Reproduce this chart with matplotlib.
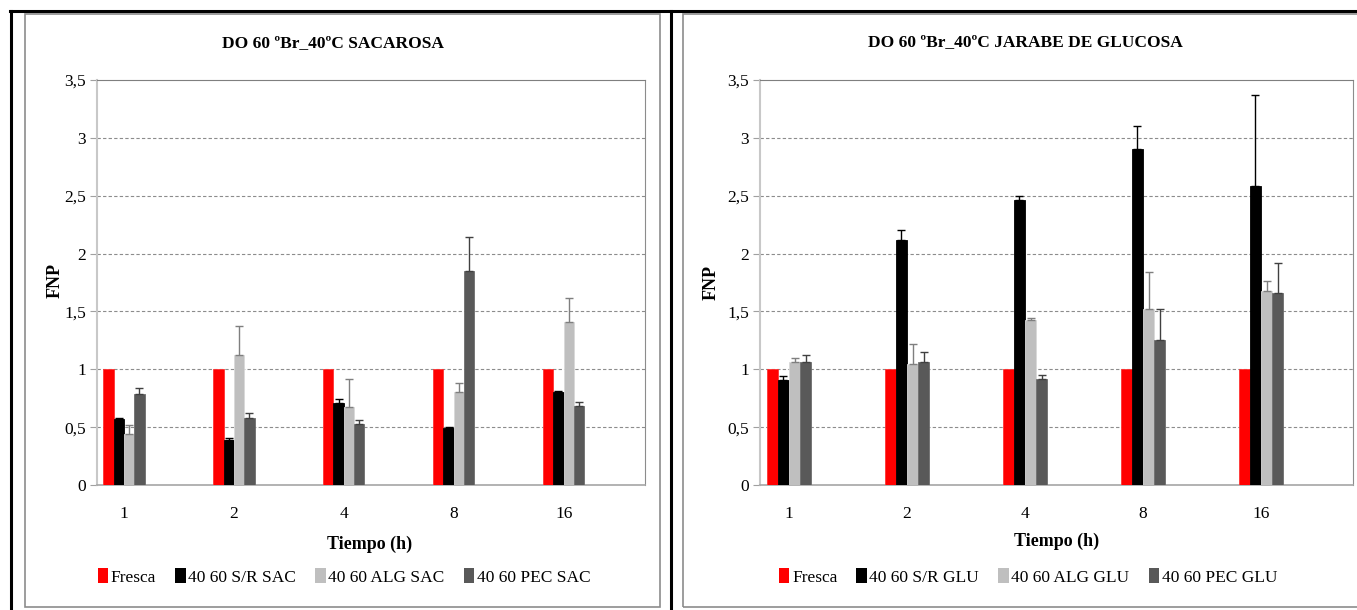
import numpy as np
import matplotlib
matplotlib.use('Agg')
import matplotlib.pyplot as plt
from matplotlib.patches import Patch, Rectangle
from matplotlib.lines import Line2D
from matplotlib.ticker import FuncFormatter, MultipleLocator

plt.rcParams['font.family'] = ['Liberation Serif', 'DejaVu Serif']

# Daten
tiempos = ['1', '2', '4', '8', '16']
fresca = [1, 1, 1, 1, 1]

sac_series = ['Fresca', '40 60 S/R SAC', '40 60 ALG SAC', '40 60 PEC SAC']
sac_sr = [0.57, 0.39, 0.71, 0.49, 0.80]
sac_sr_err = [0.01, 0.02, 0.03, 0.01, 0.01]
sac_alg = [0.44, 1.12, 0.67, 0.80, 1.41]
sac_alg_err = [0.08, 0.25, 0.25, 0.08, 0.21]
sac_pec = [0.79, 0.58, 0.53, 1.85, 0.68]
sac_pec_err = [0.05, 0.04, 0.03, 0.29, 0.04]

glu_series = ['Fresca', '40 60 S/R GLU', '40 60 ALG GLU', '40 60 PEC GLU']
glu_sr = [0.91, 2.12, 2.46, 2.90, 2.58]
glu_sr_err = [0.03, 0.08, 0.04, 0.20, 0.79]
glu_alg = [1.06, 1.05, 1.43, 1.52, 1.68]
glu_alg_err = [0.04, 0.17, 0.01, 0.32, 0.08]
glu_pec = [1.06, 1.06, 0.92, 1.25, 1.66]
glu_pec_err = [0.06, 0.09, 0.03, 0.27, 0.26]

colors = ['#ff0000', '#000000', '#bfbfbf', '#595959']
edges = ['#ff3333', '#000000', '#d9d9d9', '#6e6e6e']
err_colors = ['#000000', '#7f7f7f', '#404040']

W, H = 1357, 610
fig = plt.figure(figsize=(W / 100, H / 100), dpi=100)


def fx(x):
    return x / W


def fy(y):
    return 1 - y / H


def draw_panel(ax, sr, sr_err, alg, alg_err, pec, pec_err, xlim):
    x = np.arange(len(tiempos))
    w = 0.094
    vals = [fresca, sr, alg, pec]
    errs = [None, sr_err, alg_err, pec_err]
    for i in range(4):
        pos = x + (i - 1.5) * w
        ax.bar(pos, vals[i], width=w, color=colors[i], edgecolor=edges[i],
               linewidth=0.6, zorder=3)
        if errs[i] is not None:
            ax.errorbar(pos, vals[i], yerr=[np.zeros(len(x)), errs[i]], fmt='none',
                        ecolor=err_colors[i - 1], elinewidth=1.0, capsize=3,
                        capthick=1.0, zorder=4)
    ax.set_xlim(*xlim)
    ax.set_ylim(0, 3.5)
    ax.yaxis.set_major_locator(MultipleLocator(0.5))
    ax.yaxis.set_major_formatter(FuncFormatter(lambda v, p: ('%g' % v).replace('.', ',')))
    ax.set_xticks(x)
    ax.set_xticklabels(tiempos)
    ax.tick_params(axis='x', length=0, labelsize=12.5, pad=15)
    ax.tick_params(axis='y', length=5, color='#a0a0a0', labelsize=12.5, pad=3)
    for v in np.arange(0.5, 3.01, 0.5):
        ax.axhline(v, color='#8c8c8c', linestyle=(0, (3, 2)), linewidth=0.8, zorder=1)
    ax.spines['left'].set_color('#c8c8c8')
    ax.spines['left'].set_linewidth(1.5)
    ax.spines['bottom'].set_color('#a6a6a6')
    ax.spines['bottom'].set_linewidth(1.2)
    ax.spines['top'].set_color('#7f7f7f')
    ax.spines['right'].set_color('#8c8c8c')


ax1 = fig.add_axes([fx(97), fy(485), fx(645 - 97), (485 - 80) / H])
draw_panel(ax1, sac_sr, sac_sr_err, sac_alg, sac_alg_err, sac_pec, sac_pec_err, (-0.245, 4.74))

ax2 = fig.add_axes([fx(760), fy(485), fx(1353 - 760), (485 - 80) / H])
draw_panel(ax2, glu_sr, glu_sr_err, glu_alg, glu_alg_err, glu_pec, glu_pec_err, (-0.246, 4.78))

# Titel und Achsenbeschriftungen
fig.text(fx(333), fy(43), 'DO 60 ºBr_40ºC SACAROSA', ha='center', va='center',
         fontsize=12.5, fontweight='bold')
fig.text(fx(1025), fy(42), 'DO 60 ºBr_40ºC JARABE DE GLUCOSA', ha='center', va='center',
         fontsize=12.5, fontweight='bold')
fig.text(fx(370), fy(544), 'Tiempo (h)', ha='center', va='center', fontsize=13, fontweight='bold')
fig.text(fx(1057), fy(541), 'Tiempo (h)', ha='center', va='center', fontsize=13, fontweight='bold')
fig.text(fx(55), fy(280), 'FNP', ha='center', va='center', rotation=90, fontsize=13, fontweight='bold')
fig.text(fx(711), fy(283), 'FNP', ha='center', va='center', rotation=90, fontsize=13, fontweight='bold')

# Legenden
for labels, cx in [(sac_series, 344), (glu_series, 1028)]:
    handles = [Patch(facecolor=c, edgecolor='none') for c in colors]
    fig.legend(handles, labels, loc='center', bbox_to_anchor=(fx(cx), fy(577)), ncol=4,
               frameon=False, fontsize=12.5, handlelength=0.6, handleheight=0.9,
               handletextpad=0.15, columnspacing=1.1, borderpad=0)

# Rahmen (Tabelle + Diagrammflaechen)
fig.add_artist(Rectangle((fx(25), fy(607)), fx(660 - 25), (607 - 14) / H,
                         transform=fig.transFigure, fill=False, edgecolor='#8c8c8c', linewidth=1.2))
fig.add_artist(Rectangle((fx(683), fy(607)), fx(1400 - 683), (607 - 14) / H,
                         transform=fig.transFigure, fill=False, edgecolor='#8c8c8c', linewidth=1.2))
fig.add_artist(Line2D([fx(11), fx(11)], [0, fy(11)], transform=fig.transFigure, color='black', linewidth=2.2))
fig.add_artist(Line2D([fx(671), fx(671)], [0, fy(11)], transform=fig.transFigure, color='black', linewidth=2.2))
fig.add_artist(Line2D([fx(10), 1], [fy(11), fy(11)], transform=fig.transFigure, color='black', linewidth=2.2))

fig.savefig('out.png', dpi=100)
